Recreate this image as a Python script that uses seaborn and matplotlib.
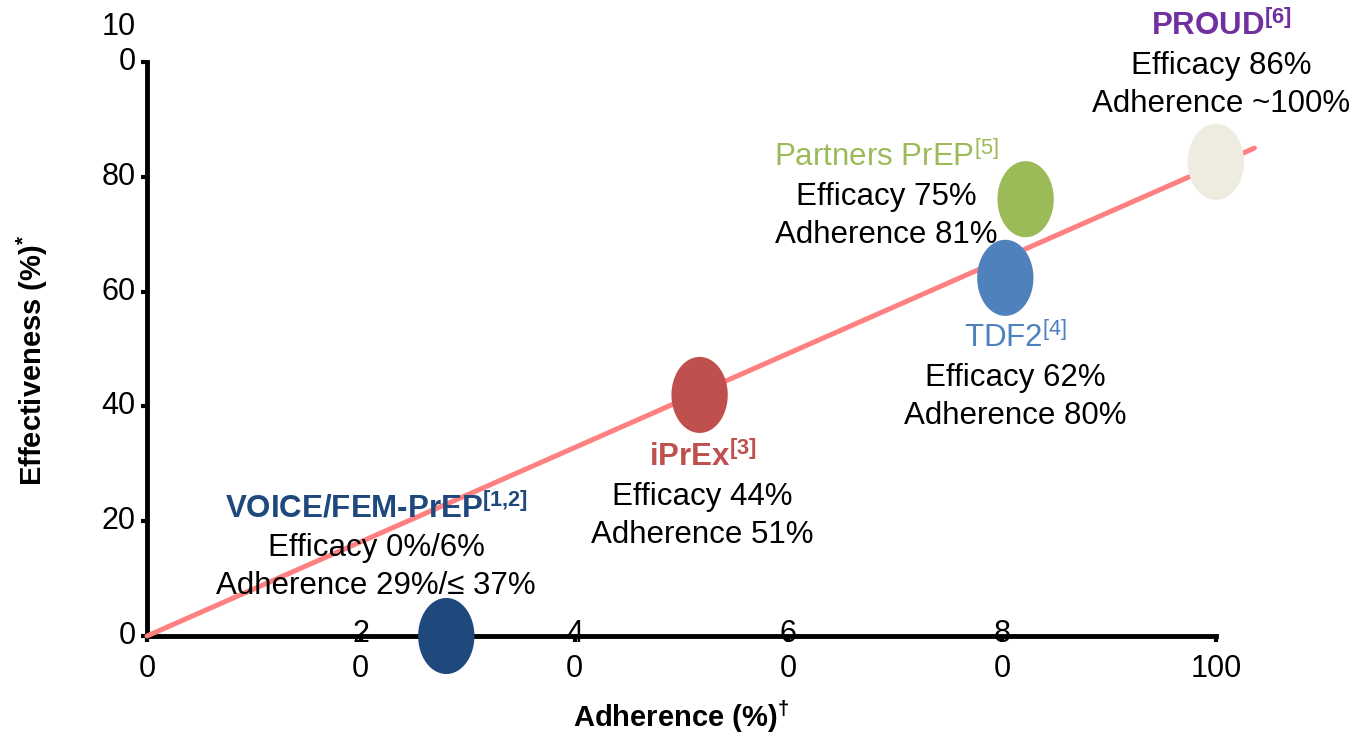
import numpy as np
import pandas as pd
import matplotlib
matplotlib.use("Agg")
import matplotlib.pyplot as plt
from matplotlib.path import Path
import seaborn as sns

# ---------------- data ----------------
studies = ["VOICE/FEM-PrEP", "iPrEx", "TDF2", "Partners PrEP", "PROUD"]
adherence = [28.0, 51.7, 80.3, 82.2, 100.0]
effectiveness = [0.0, 42.0, 62.4, 76.1, 82.6]
titles = ["VOICE/FEM-PrEP$^{[1{,}2]}$", "iPrEx$^{[3]}$", "TDF2$^{[4]}$",
          "Partners PrEP$^{[5]}$", "PROUD$^{[6]}$"]
efficacy_lines = ["Efficacy 0%/6%", "Efficacy 44%", "Efficacy 62%",
                  "Efficacy 75%", "Efficacy 86%"]
adherence_lines = ["Adherence 29%/\u2264 37%", "Adherence 51%", "Adherence 80%",
                   "Adherence 81%", "Adherence ~100%"]
trend_x = [0.0, 103.6]
trend_y = [0.0, 85.0]
x_ticks = [0, 20, 40, 60, 80, 100]
x_tick_labels = ["0", "2\n0", "4\n0", "6\n0", "8\n0", "100"]
y_ticks = [0, 20, 40, 60, 80, 100]
y_tick_labels = ["0", "20", "40", "60", "80", "10\n0\n"]

# ---------------- style ----------------
marker_colors = {"VOICE/FEM-PrEP": "#1F497D", "iPrEx": "#C0504D", "TDF2": "#4F81BD",
                 "Partners PrEP": "#9BBB59", "PROUD": "#EEECE1"}
title_colors = ["#1F497D", "#C0504D", "#4F81BD", "#9BBB59", "#7030A0"]
title_weights = ["bold", "bold", "normal", "normal", "bold"]
# label offsets in pixels from each point (x, title-baseline y; up positive)
label_dx = [-70, 3, 10, -139, 5]
label_dy = [119, -71, -69, 33, 127]

sns.set_theme(style="white")
plt.rcParams["font.family"] = ["Liberation Sans", "DejaVu Sans"]
plt.rcParams["mathtext.default"] = "regular"
plt.rcParams["text.color"] = "black"
plt.rcParams["axes.labelcolor"] = "black"

fig = plt.figure(figsize=(13.7, 7.35), dpi=100)
ax = fig.add_axes([147 / 1370, 99 / 735, 1133 / 1370, 574 / 735])

df = pd.DataFrame({"study": studies, "adherence": adherence, "effectiveness": effectiveness})
trend = pd.DataFrame({"x": trend_x, "y": trend_y})

sns.lineplot(data=trend, x="x", y="y", color="#FF8080", linewidth=3.6, ax=ax,
             zorder=3, clip_on=False)

t = np.linspace(0, 2 * np.pi, 120)
ellipse = Path(np.column_stack([0.37 * np.cos(t), 0.5 * np.sin(t)]), closed=True)
sns.scatterplot(data=df, x="adherence", y="effectiveness", hue="study",
                palette=marker_colors, marker=ellipse, s=3000, linewidth=0,
                legend=False, zorder=6, clip_on=False, ax=ax)

ax.set_xlim(0, 106)
ax.set_ylim(0, 100)

for spine in ["top", "right"]:
    ax.spines[spine].set_visible(False)
for spine in ["left", "bottom"]:
    ax.spines[spine].set_linewidth(3.5)
    ax.spines[spine].set_color("black")
ax.spines["bottom"].set_bounds(0, 100)

ax.set_xticks(x_ticks, x_tick_labels)
ax.set_yticks(y_ticks, y_tick_labels)
ax.tick_params(axis="both", direction="out", length=4.3, width=3, colors="black",
               labelcolor="black", labelsize=22, bottom=True, left=True)
ax.tick_params(axis="x", pad=30)
ax.tick_params(axis="y", pad=4)
plt.setp(ax.get_xticklabels(), va="bottom")
plt.setp(ax.get_yticklabels(), va="center")
ax.grid(False)

ax.set_xlabel("Adherence (%)$^{\u2020}$", fontsize=21, fontweight="bold", color="black")
ax.set_ylabel("Effectiveness (%)$^{*}$", fontsize=21, fontweight="bold", color="black")
ax.xaxis.set_label_coords(50 / 106, -0.108)
ax.yaxis.set_label_coords(-0.086, 0.48)

for i in range(len(studies)):
    xy = (adherence[i], effectiveness[i])
    ax.annotate(titles[i], xy=xy, xytext=(label_dx[i], label_dy[i]),
                textcoords="offset pixels", ha="center", va="baseline",
                fontsize=22.5, color=title_colors[i], fontweight=title_weights[i],
                annotation_clip=False, zorder=7)
    ax.annotate(efficacy_lines[i], xy=xy, xytext=(label_dx[i], label_dy[i] - 39),
                textcoords="offset pixels", ha="center", va="baseline",
                fontsize=22.5, color="black", annotation_clip=False, zorder=7)
    ax.annotate(adherence_lines[i], xy=xy, xytext=(label_dx[i], label_dy[i] - 77),
                textcoords="offset pixels", ha="center", va="baseline",
                fontsize=22.5, color="black", annotation_clip=False, zorder=7)

fig.savefig("out.png", dpi=100, facecolor="white")
